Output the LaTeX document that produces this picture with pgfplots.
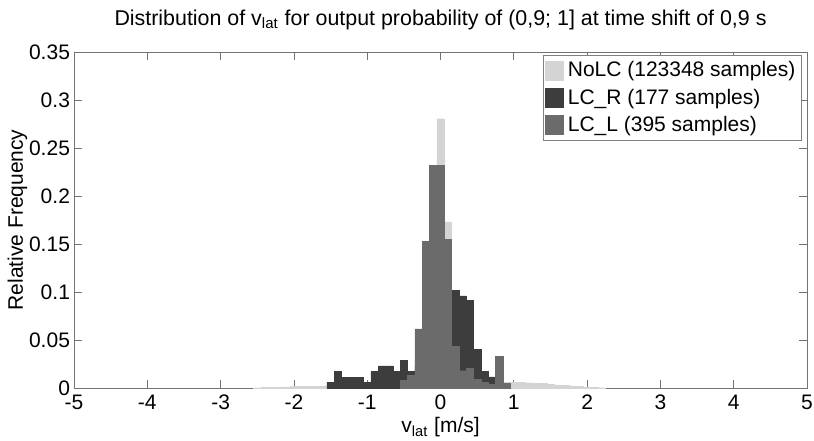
\documentclass[border=0pt]{standalone}
\usepackage{fontspec}
\setmainfont{Liberation Sans}
\usepackage{pgfplots}
\usepackage{pgfplotstable}
\pgfplotsset{compat=1.18}
\usetikzlibrary{calc}
\definecolor{nolc}{gray}{0.83}
\definecolor{lcr}{gray}{0.24}
\definecolor{lcl}{gray}{0.42}

\pgfplotstableread{
x y
-2.5 0.0003
-2.4 0.0005
-2.3 0.0008
-2.2 0.0010
-2.1 0.0012
-2.0 0.0015
-1.9 0.0017
-1.8 0.0019
-1.7 0.0020
-1.6 0.0022
-1.5 0.0028
-1.4 0.0030
-1.3 0.0033
-1.2 0.0036
-1.1 0.0040
-1.0 0.0045
-0.9 0.0048
-0.8 0.0050
-0.7 0.0055
-0.6 0.0065
-0.5 0.0090
-0.4 0.0140
-0.3 0.0300
-0.2 0.0690
-0.1 0.1920
0.0 0.2805
0.1 0.1730
0.2 0.0710
0.3 0.0306
0.4 0.0128
0.5 0.0087
0.6 0.0070
0.7 0.0065
0.8 0.0060
0.9 0.0060
1.0 0.0058
1.1 0.0057
1.2 0.0055
1.3 0.0050
1.4 0.0045
1.5 0.0038
1.6 0.0033
1.7 0.0028
1.8 0.0022
1.9 0.0015
2.0 0.0010
2.1 0.0006
2.2 0.0003
}\nolcdata

\pgfplotstableread{
x y
-1.5 0.0060
-1.4 0.0170
-1.3 0.0110
-1.2 0.0110
-1.1 0.0110
-1.0 0.0060
-0.9 0.0170
-0.8 0.0230
-0.7 0.0230
-0.6 0.0170
-0.5 0.0285
-0.4 0.0170
-0.3 0.0230
-0.2 0.0510
-0.1 0.1100
0.0 0.1420
0.1 0.1360
0.2 0.1017
0.3 0.0960
0.4 0.0910
0.5 0.0400
0.6 0.0174
0.7 0.0115
0.8 0.0060
0.9 0.0040
}\lcrdata

\pgfplotstableread{
x y
-0.5 0.0080
-0.4 0.0130
-0.3 0.0615
-0.2 0.1530
-0.1 0.2316
0.0 0.2316
0.1 0.1550
0.2 0.0434
0.3 0.0180
0.4 0.0208
0.5 0.0087
0.6 0.0060
0.7 0.0040
0.8 0.0330
0.9 0.0050
}\lcldata

\begin{document}
\begin{tikzpicture}
\begin{axis}[
  name=ax,
  scale only axis,
  width=366.5pt, height=168pt,
  xmin=-5, xmax=5, ymin=0, ymax=0.35,
  xtick={-5,-4,...,5},
  ytick={0,0.05,0.1,0.15,0.2,0.25,0.3,0.35},
  /pgf/number format/assume math mode=true,
  tick align=inside,
  major tick length=4pt,
  axis line style={draw=black!55},
  every tick/.style={black!55},
  font=\fontsize{10.5}{12}\selectfont,
  tick label style={font=\fontsize{10.5}{12}\selectfont},
  yticklabel style={xshift=1.5pt, /pgf/number format/.cd, fixed, precision=2},
  label style={font=\fontsize{10.5}{12}\selectfont},
  title style={font=\fontsize{10.7}{12}\selectfont, yshift=1.5pt},
  title={Distribution of v\textsubscript{lat} for output probability of (0,9; 1] at time shift of 0,9 s},
  xlabel={v\textsubscript{lat} [m/s]},
  ylabel={Relative Frequency},
  xlabel style={yshift=3pt},
  every axis y label/.style={at={(rel axis cs:0,0.5)}, xshift=-25.5pt, rotate=90, anchor=base},
  legend cell align=left,
  legend style={at={(0.993,0.99)}, anchor=north east, draw=black!50,
    font=\fontsize{10.5}{12}\selectfont, inner sep=1pt, row sep=0.5pt,
    /tikz/every even column/.append style={column sep=1pt}},
  legend image code/.code={\fill[#1] (0pt,-4.5pt) rectangle (9pt,5pt);},
]
\addplot[ybar, bar width=0.1, bar shift=0pt, fill=nolc, draw=nolc, line width=0.2pt] table[x=x,y=y] {\nolcdata};
\addlegendentry{NoLC (123348 samples)}
\addplot[ybar, bar width=0.1, bar shift=0pt, fill=lcr, draw=lcr, line width=0.2pt] table[x=x,y=y] {\lcrdata};
\addlegendentry{LC\_R (177 samples)}
\addplot[ybar, bar width=0.1, bar shift=0pt, fill=lcl, draw=lcl, line width=0.2pt] table[x=x,y=y] {\lcldata};
\addlegendentry{LC\_L (395 samples)}
\end{axis}
\pgfresetboundingbox
\path ($(ax.south west)+(-37pt,-26pt)$) rectangle ($(ax.north east)+(3.5pt,26pt)$);
\end{tikzpicture}
\end{document}
